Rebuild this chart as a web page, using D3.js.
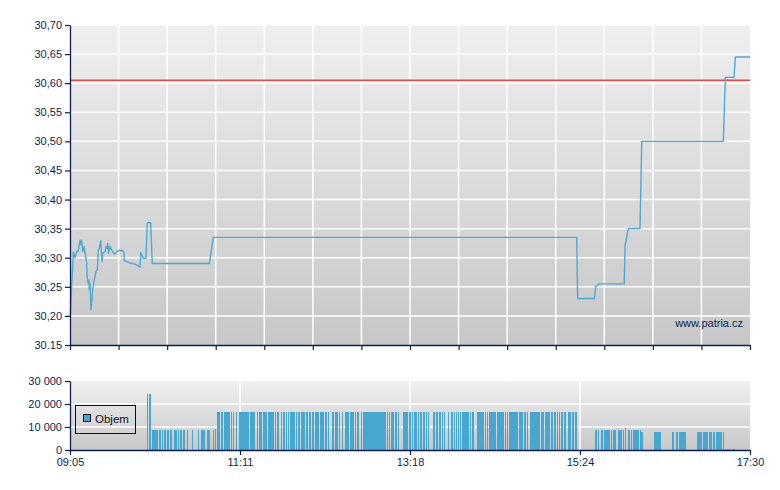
<!DOCTYPE html>
<html>
<head>
<meta charset="utf-8">
<script src="https://cdn.jsdelivr.net/npm/d3@7"></script>
<style>
  html, body { margin: 0; padding: 0; background: #fff; }
  svg { display: block; font-family: "Liberation Sans", Arial, sans-serif; }
</style>
</head>
<body>
<svg id="chart" width="780" height="490"></svg>
<script>
// ---------- DATA (time = minutes after 09:05) ----------
const priceTimes = [0.2, 2.5, 3.7, 5.0, 6.2, 7.4, 8.2, 8.7, 9.4, 10.4, 11.1, 12.4, 12.8, 13.6, 14.1, 14.3, 14.9, 15.6, 16.9, 18.0,
  19.3, 20.3, 21.0, 21.8, 22.8, 23.8, 24.3, 26.0, 26.7, 27.5, 28.0, 28.7, 29.5, 31.0, 32.9, 34.7, 36.6, 37.9, 38.8, 40.1,
  40.3, 44.6, 48.3, 52.0, 52.5, 54.4, 56.4, 57.4, 59.9, 61.1, 103.5, 106.4, 376.3, 377.0, 389.4, 390.4, 392.6, 411.6, 412.2, 414.6,
  423.3, 424.6, 485.2, 486.7, 493.1, 494.1, 505];
const priceValues = [30.20, 30.31, 30.30, 30.31, 30.313, 30.33, 30.322, 30.33, 30.31, 30.32, 30.31, 30.29, 30.265, 30.256, 30.262, 30.245, 30.256, 30.21, 30.247, 30.262,
  30.276, 30.279, 30.313, 30.316, 30.329, 30.293, 30.308, 30.31, 30.319, 30.316, 30.325, 30.308, 30.32, 30.313, 30.306, 30.31, 30.313, 30.312, 30.313, 30.309,
  30.295, 30.291, 30.289, 30.284, 30.309, 30.299, 30.299, 30.36, 30.36, 30.29, 30.29, 30.335, 30.335, 30.23, 30.23, 30.25, 30.255, 30.255, 30.32, 30.35,
  30.35, 30.50, 30.50, 30.61, 30.61, 30.645, 30.645];
const prevClose = 30.605;

const priceTicks = [30.15, 30.20, 30.25, 30.30, 30.35, 30.40, 30.45, 30.50, 30.55, 30.60, 30.65, 30.70];
const priceTickLabels = ["30.15", "30,20", "30,25", "30,30", "30,35", "30,40", "30,45", "30,50", "30,55", "30,60", "30,65", "30,70"];

const volTicks = [0, 10000, 20000, 30000];
const volTickLabels = ["0", "10 000", "20 000", "30 000"];

const timeTicks = [0, 126.25, 252.5, 378.75, 505];
const timeTickLabels = ["09:05", "11:11", "13:18", "15:24", "17:30"];

// volume bars: [start, end] in minutes, grouped by traded volume
const vol24500 = [[57.2, 57.9], [58.7, 60.2]];
const vol9000 = [[107.7, 108.4]];
const vol8600 = [[60.9, 65.4], [66.1, 67.6], [68.3, 69.1], [69.8, 71.3], [72.0, 73.5], [74.3, 75.7], [77.2, 79.5], [80.2, 81.0],
  [81.7, 83.2], [83.9, 85.4], [86.9, 87.6], [90.6, 91.3], [95.1, 95.8], [97.3, 100.3], [101.7, 104.0], [106.2, 106.9],
  [389.9, 391.4], [392.1, 392.9], [394.3, 395.8], [396.6, 401.0], [401.8, 402.5], [403.3, 405.5], [407.0, 409.9], [410.7, 411.4],
  [414.4, 415.9], [416.6, 417.4], [418.1, 422.6], [423.3, 424.1]];
const vol9500 = [[412.2, 412.9]];
const vol16700 = [[109.2, 111.4], [112.1, 113.6], [114.4, 118.8], [119.6, 120.3], [121.1, 121.8], [123.3, 124.0], [125.5, 132.9],
  [133.7, 137.4], [138.9, 139.6], [140.4, 142.6], [143.3, 146.3], [147.0, 151.5], [152.2, 153.0], [153.7, 155.2], [156.7, 157.4],
  [158.2, 159.7], [160.4, 161.2], [161.9, 162.6], [163.4, 167.1], [167.8, 168.6], [169.3, 170.8], [171.6, 174.5], [175.3, 176.8],
  [177.5, 179.0], [179.7, 181.2], [182.0, 184.9], [185.7, 188.6], [189.4, 190.9], [191.6, 192.3], [194.6, 196.1], [196.8, 199.0],
  [199.8, 200.5], [202.0, 202.7], [204.2, 207.2], [207.9, 210.9], [211.7, 212.4], [213.1, 214.6], [216.1, 216.9], [217.6, 234.7],
  [235.4, 236.2], [236.9, 237.6], [238.4, 240.6], [241.4, 242.8], [243.6, 244.3], [247.3, 251.0], [251.8, 253.2], [254.0, 254.7],
  [255.5, 257.7], [258.4, 259.2], [259.9, 261.4], [262.2, 263.6], [264.4, 265.1], [265.9, 266.6], [269.6, 271.1], [271.8, 273.3],
  [274.0, 275.5], [276.3, 277.0], [277.8, 278.5], [280.7, 281.5], [283.0, 284.4], [285.2, 285.9], [286.7, 287.4], [288.1, 288.9],
  [289.6, 290.4], [291.1, 296.3], [297.1, 297.8], [298.5, 300.0], [302.3, 307.5], [308.2, 308.9], [309.7, 310.4], [311.2, 316.4],
  [317.1, 322.3], [323.1, 323.8], [324.5, 325.3], [326.0, 332.7], [333.5, 336.4], [337.2, 338.6], [339.4, 340.1], [341.6, 349.0],
  [349.8, 352.0], [352.8, 356.5], [357.2, 358.7], [359.4, 360.9], [361.7, 362.4], [363.2, 363.9], [364.6, 366.1], [366.9, 368.4],
  [369.8, 372.1], [372.8, 374.3], [375.0, 376.5]];
const vol7700 = [[424.1, 425.5], [433.7, 438.9], [447.1, 448.6], [450.0, 451.5], [452.3, 457.5], [465.6, 469.4], [470.1, 473.8],
  [474.6, 476.8], [477.5, 479.0], [479.8, 484.2], [485.0, 485.7]];
const vol500 = [[486.4, 487.2], [487.9, 490.2], [491.6, 493.9]];

const volGroups = [[24500, vol24500], [9000, vol9000], [8600, vol8600], [9500, vol9500], [16700, vol16700], [7700, vol7700], [500, vol500]];
const volBars = [];
volGroups.forEach(([v, runs]) => runs.forEach(r => volBars.push({ start: r[0], end: r[1], value: v })));

// ---------- LAYOUT ----------
const svg = d3.select("#chart");
const navy = "#0c1f4f";
const left = 70, right = 750;
const mainTop = 25, mainBottom = 345;
const volTop = 381, volBottom = 450;

const x = d3.scaleLinear().domain([0, 505]).range([left, right]);
const y = d3.scaleLinear().domain([30.15, 30.70]).range([mainBottom, mainTop]);
const yv = d3.scaleLinear().domain([0, 30000]).range([volBottom, volTop]);

const defs = svg.append("defs");
function grad(id, c1, c2) {
  const g = defs.append("linearGradient").attr("id", id).attr("x1", 0).attr("y1", 0).attr("x2", 0).attr("y2", 1);
  g.append("stop").attr("offset", "0%").attr("stop-color", c1);
  g.append("stop").attr("offset", "100%").attr("stop-color", c2);
}
grad("bgMain", "#efefef", "#c7c7c7");
grad("bgVol", "#f0f0f0", "#c8c8c8");

// ---------- MAIN PANEL ----------
svg.append("rect").attr("x", left).attr("y", mainTop).attr("width", right - left).attr("height", mainBottom - mainTop)
  .attr("fill", "url(#bgMain)");

const mainGridTimes = d3.range(1, 14).map(i => i * 505 / 14);
svg.append("g").selectAll("line").data(mainGridTimes).join("line")
  .attr("x1", d => x(d)).attr("x2", d => x(d)).attr("y1", mainTop).attr("y2", mainBottom)
  .attr("stroke", "#fff").attr("stroke-width", 1.5);
svg.append("g").selectAll("line").data(priceTicks.slice(1)).join("line")
  .attr("x1", left).attr("x2", right).attr("y1", d => y(d)).attr("y2", d => y(d))
  .attr("stroke", "#fff").attr("stroke-width", 1.5);

// reference line
svg.append("line").attr("x1", left).attr("x2", right).attr("y1", y(prevClose)).attr("y2", y(prevClose))
  .attr("stroke", "#e24a4a").attr("stroke-width", 1.5);

// price line
const pts = priceTimes.map((t, i) => [t, priceValues[i]]);
svg.append("path").datum(pts)
  .attr("d", d3.line().x(d => x(d[0])).y(d => y(d[1])))
  .attr("fill", "none").attr("stroke", "#4fa9d3").attr("stroke-width", 1.4).attr("stroke-linejoin", "round");

// watermark
svg.append("text").attr("x", 743).attr("y", 327).attr("text-anchor", "end")
  .attr("font-size", 11).attr("fill", navy).text("www.patria.cz");

// axes
const yAxis = svg.append("g").attr("transform", `translate(${left},0)`)
  .call(d3.axisLeft(y).tickValues(priceTicks).tickFormat((d, i) => priceTickLabels[i]).tickSize(5).tickSizeOuter(0).tickPadding(3));
const xAxisMain = svg.append("g").attr("transform", `translate(0,${mainBottom})`)
  .call(d3.axisBottom(x).tickValues([0, ...mainGridTimes, 505]).tickFormat("").tickSize(5).tickSizeOuter(0));

// ---------- VOLUME PANEL ----------
svg.append("rect").attr("x", left).attr("y", volTop).attr("width", right - left).attr("height", volBottom - volTop)
  .attr("fill", "url(#bgVol)");
svg.append("g").selectAll("line").data(timeTicks.slice(1, 4)).join("line")
  .attr("x1", d => x(d)).attr("x2", d => x(d)).attr("y1", volTop).attr("y2", volBottom)
  .attr("stroke", "#fff").attr("stroke-width", 1.5);
svg.append("g").selectAll("line").data(volTicks.slice(1, 3)).join("line")
  .attr("x1", left).attr("x2", right).attr("y1", d => yv(d)).attr("y2", d => yv(d))
  .attr("stroke", "#fff").attr("stroke-width", 1.5);

svg.append("g").attr("shape-rendering", "crispEdges").selectAll("rect").data(volBars).join("rect")
  .attr("x", d => x(d.start)).attr("width", d => Math.max(1, x(d.end) - x(d.start)))
  .attr("y", d => yv(d.value)).attr("height", d => yv(0) - yv(d.value))
  .attr("fill", "#47a7d0");

const yvAxis = svg.append("g").attr("transform", `translate(${left},0)`)
  .call(d3.axisLeft(yv).tickValues(volTicks).tickFormat((d, i) => volTickLabels[i]).tickSize(5).tickSizeOuter(0).tickPadding(3));
const xvAxis = svg.append("g").attr("transform", `translate(0,${volBottom})`)
  .call(d3.axisBottom(x).tickValues(timeTicks).tickFormat((d, i) => timeTickLabels[i]).tickSize(5).tickSizeOuter(0).tickPadding(3));

[yAxis, xAxisMain, yvAxis, xvAxis].forEach(g => {
  g.select(".domain").attr("stroke", navy).attr("stroke-width", 1.3);
  g.selectAll(".tick line").attr("stroke", navy).attr("stroke-width", 1.2);
  g.selectAll(".tick text").attr("fill", navy).attr("font-size", 11).attr("font-family", "'Liberation Sans', Arial, sans-serif");
});

// legend
const lg = svg.append("g");
lg.append("rect").attr("x", 75.5).attr("y", 405.5).attr("width", 60).attr("height", 28)
  .attr("fill", "none").attr("stroke", "#111").attr("stroke-width", 1);
lg.append("rect").attr("x", 83.5).attr("y", 414.5).attr("width", 7).attr("height", 7)
  .attr("fill", "#47a7d0").attr("stroke", "#111").attr("stroke-width", 1);
lg.append("text").attr("x", 95).attr("y", 423).attr("font-size", 11.5).attr("fill", "#111").text("Objem");
</script>
</body>
</html>
